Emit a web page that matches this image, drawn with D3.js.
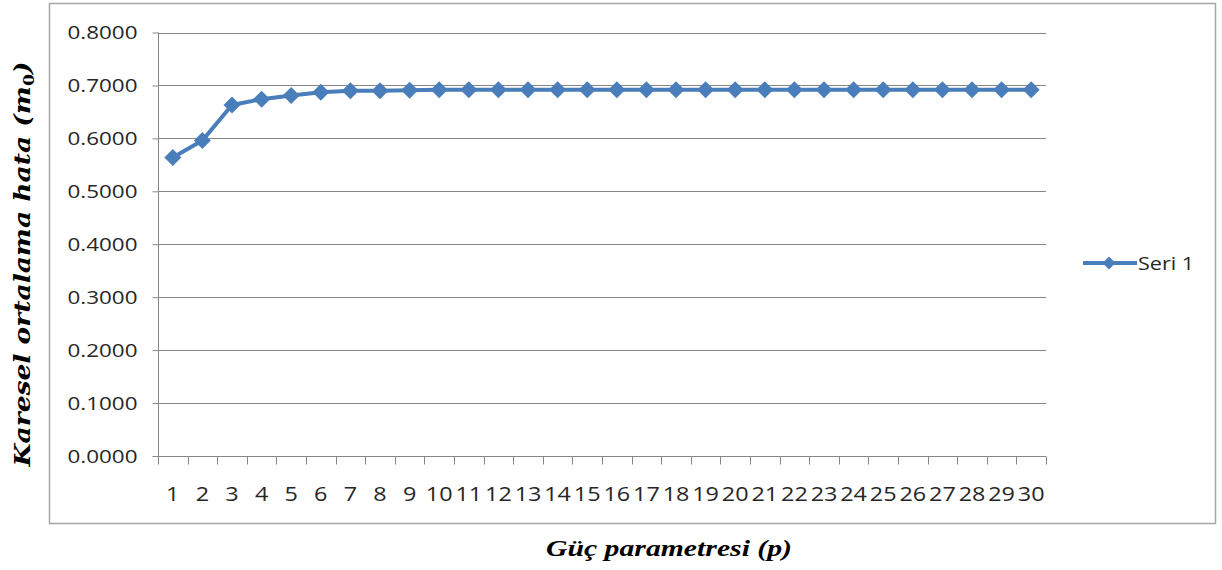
<!DOCTYPE html>
<html><head><meta charset="utf-8">
<script src="https://cdn.jsdelivr.net/npm/d3@7/dist/d3.min.js"></script>
<style>html,body{margin:0;padding:0;background:#fff;}</style>
</head><body>
<svg id="chart" width="1222" height="570"></svg>
<script>
const categories = d3.range(1, 31).map(String);
const seriesName = "Seri 1";
const values = [0.564, 0.596, 0.663, 0.674, 0.681, 0.687, 0.690, 0.690, 0.691, 0.692,
                0.692, 0.692, 0.692, 0.692, 0.692, 0.692, 0.692, 0.692, 0.692, 0.692,
                0.692, 0.692, 0.692, 0.692, 0.692, 0.692, 0.692, 0.692, 0.692, 0.692];
const yTicks = [0, 0.1, 0.2, 0.3, 0.4, 0.5, 0.6, 0.7, 0.8];
const yTitle = "Karesel ortalama hata (";
const xTitle = "Güç parametresi (p)";

(function () {
const svg = d3.select("#chart");
const blue = "#4a7ebb", grid = "#868686";
const pLeft = 158, pRight = 1046, pTop = 32.5, pBottom = 456;

svg.append("rect").attr("x", 49.5).attr("y", 3.5).attr("width", 1166).attr("height", 520)
  .attr("fill", "#fff").attr("stroke", "#a6a6a6").attr("stroke-width", 1.5);

const x = d3.scaleBand().domain(categories).range([pLeft, pRight]);
const y = d3.scaleLinear().domain([0, 0.8]).range([pBottom, pTop]);

// gridlines
svg.append("g").selectAll("line").data(yTicks).join("line")
  .attr("x1", pLeft).attr("x2", pRight)
  .attr("y1", d => Math.round(y(d)) + 0.5).attr("y2", d => Math.round(y(d)) + 0.5)
  .attr("stroke", grid).attr("stroke-width", 1);

// y axis
const ya = svg.append("g").attr("transform", `translate(${pLeft + 0.5},0)`)
  .call(d3.axisLeft(y).tickValues(yTicks).tickFormat(d3.format(".4f")).tickSize(6));
ya.select(".domain").attr("stroke", grid).attr("d", `M0,${pTop}V${pBottom}`);
ya.selectAll(".tick line").attr("stroke", grid);
ya.selectAll(".tick text").attr("x", 0).attr("dy", "0.34em")
  .attr("transform", "translate(-21,0) scale(1.18,1)")
  .style("font-family", "'Open Sans'").style("font-size", "19px").attr("fill", "#262626");

// x axis
const xa = svg.append("g").attr("transform", `translate(0,${Math.round(pBottom) + 0.5})`)
  .call(d3.axisBottom(x).tickSize(0).tickPadding(0));
xa.select(".domain").attr("stroke", grid).attr("d", `M${pLeft},0H${pRight}`);
xa.selectAll(".tick text").attr("y", 0).attr("dy", 0)
  .attr("transform", "translate(0,44) scale(1.2,1)")
  .style("font-family", "'Open Sans'").style("font-size", "19.5px").attr("fill", "#262626");
const bounds = categories.map(c => x(c)).concat([x.range()[1]]);
xa.append("g").selectAll("line").data(bounds).join("line")
  .attr("x1", d => Math.round(d) + 0.5).attr("x2", d => Math.round(d) + 0.5)
  .attr("y1", 0).attr("y2", 8).attr("stroke", grid);

// series line
const cx = c => x(c) + x.bandwidth() / 2;
const line = d3.line().x((d, i) => cx(categories[i])).y(d => y(d));
svg.append("path").datum(values).attr("d", line)
  .attr("fill", "none").attr("stroke", blue).attr("stroke-width", 4).attr("stroke-linejoin", "round");
const diamond = r => `M0,${-r}L${r},0L0,${r}L${-r},0Z`;
svg.append("g").selectAll("path").data(values).join("path")
  .attr("transform", (d, i) => `translate(${cx(categories[i])},${y(d)})`)
  .attr("d", diamond(8.5)).attr("fill", blue);

// legend
const lg = svg.append("g").attr("transform", "translate(1083,263)");
lg.append("line").attr("x1", 0).attr("x2", 54).attr("stroke", blue).attr("stroke-width", 4);
lg.append("path").attr("transform", "translate(26,0)").attr("d", diamond(6.5)).attr("fill", blue);
lg.append("text").attr("transform", "translate(55,7) scale(1.2,1)")
  .style("font-family", "'Open Sans'").style("font-size", "18px").attr("fill", "#262626")
  .text(seriesName);

// y title
const yt = svg.append("text").attr("transform", "translate(30,264) rotate(-90)")
  .attr("text-anchor", "middle")
  .attr("textLength", 405).attr("lengthAdjust", "spacingAndGlyphs")
  .style("font-family", "'DejaVu Serif'").style("font-weight", "bold").style("font-style", "italic")
  .style("font-size", "23px").attr("fill", "#000");
yt.append("tspan").text(yTitle);
yt.append("tspan").text("m");
yt.append("tspan").attr("baseline-shift", "-25%").style("font-size", "15px").style("font-style", "normal").text("0");
yt.append("tspan").text(")");

// x title
svg.append("text").attr("x", 669).attr("y", 556).attr("text-anchor", "middle")
  .attr("textLength", 246).attr("lengthAdjust", "spacingAndGlyphs")
  .style("font-family", "'Liberation Serif'").style("font-weight", "bold").style("font-style", "italic")
  .style("font-size", "24px").attr("fill", "#000").text(xTitle);
})();
</script>
</body></html>
